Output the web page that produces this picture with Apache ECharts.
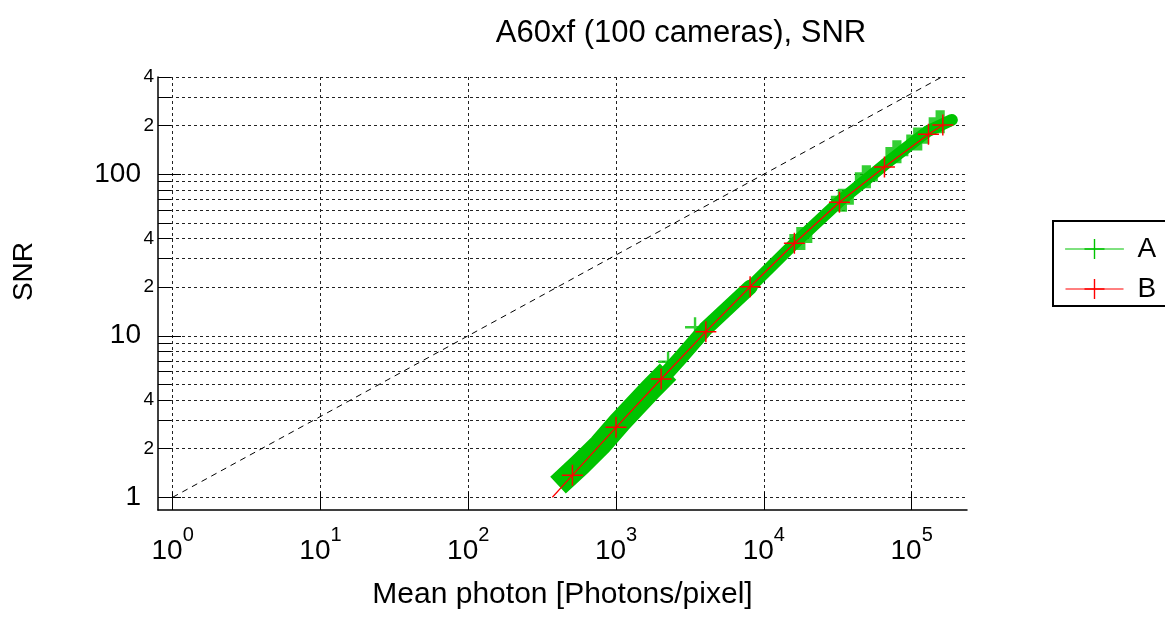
<!DOCTYPE html>
<html><head><meta charset="utf-8">
<script src="https://cdn.jsdelivr.net/npm/echarts@6/dist/echarts.min.js"></script>
<style>html,body{margin:0;padding:0;background:#fff}#c{width:1165px;height:627px}</style>
</head><body><div id="c"></div>
<script>
// ---- data ----
const xTicks = [1, 10, 100, 1000, 10000, 100000];
const yMajorTicks = [1, 10, 100];
const yMinorTicks = [2, 3, 4, 5, 6, 7, 8, 9, 20, 30, 40, 50, 60, 70, 80, 90, 200, 300, 400];
const yMinorLabelValues = [2, 4, 20, 40, 200, 400];

// dashed reference line SNR = sqrt(photons)
const refLine = [[1, 1], [160000, 400]];

// series B (red): line start without marker, then markers
const bLineStart = [371, 1.0];
const bMarkers = [[507, 1.37], [1000, 2.71], [2019, 5.40], [4053, 10.6], [8078, 20.1],
  [16100, 37.4], [32500, 67.1], [65500, 111], [130000, 177], [162600, 202]];

// series A (green, 100 cameras): band centre, read in three stretches of different spread
const aBandLow = [[405, 1.19], [570, 1.59], [780, 2.11], [1065, 2.93], [1700, 4.62], [2250, 6.0]];
const aBandMid = [[1700, 4.62], [2250, 6.0], [2720, 7.29], [4020, 11.0], [8080, 20.0]];
const aBandHigh = [[8080, 20.0], [16200, 37.5], [32800, 68.4], [65100, 114], [129000, 185], [187000, 217]];
// clusters of camera markers sticking out of the band
const aSmallClusters = [[3425, 11.3], [2250, 6.9]];
const aBlobClusters = [[17800, 40.0], [34000, 69.0], [49400, 96.4], [79500, 138], [110000, 165], [156000, 211]];

const X_MIN = 0.796, X_MAX = 237000, Y_MIN = 0.834, Y_MAX = 400;

// ---- styling ----
const FONT = 'Liberation Sans, Arial, sans-serif';
const GREEN = '#00c300', RED = '#ff0000';
const thinPlus = 'path://M-0.07,-1H0.07V-0.07H1V0.07H0.07V1H-0.07V0.07H-1V-0.07H-0.07Z';
const midPlus = 'path://M-0.12,-1H0.12V-0.12H1V0.12H0.12V1H-0.12V0.12H-1V-0.12H-0.12Z';
const blobPlus = 'path://M-0.4,-1H0.4V-0.4H1V0.4H0.4V1H-0.4V0.4H-1V-0.4H-0.4Z';
const gridDots = { color: '#222', width: 1, type: [3, 3] };

const chart = echarts.init(document.getElementById('c'));

function bandSeries(data, width, cap) {
  return {
    name: 'A', type: 'line', data: data, xAxisIndex: 0, yAxisIndex: 0,
    symbol: thinPlus, symbolSize: 20, showSymbol: false,
    lineStyle: { color: GREEN, width: width, cap: cap, join: 'round' },
    itemStyle: { color: GREEN },
    silent: true, z: 3, animation: false
  };
}

const bData = [{ value: bLineStart, symbol: 'none' }].concat(bMarkers.map(p => ({ value: p })));

const option = {
  animation: false,
  backgroundColor: '#fff',
  textStyle: { fontFamily: FONT },
  title: {
    text: 'A60xf (100 cameras), SNR',
    left: 676, top: 13, textAlign: 'center',
    textStyle: { fontFamily: FONT, fontSize: 31, fontWeight: 'normal', color: '#000' }
  },
  legend: {
    data: ['A', 'B'],
    orient: 'vertical', left: 1053, top: 221,
    padding: [14, 40, 3, 12],
    itemWidth: 58, itemHeight: 25, itemGap: 12,
    borderColor: '#000', borderWidth: 2, backgroundColor: '#fff',
    selectedMode: false,
    lineStyle: { width: 1 },
    textStyle: { fontFamily: FONT, fontSize: 28, lineHeight: 25, color: '#000', padding: [0, 0, 0, 9] }
  },
  grid: { left: 158, top: 77, width: 809, height: 433, containLabel: false },
  xAxis: {
    type: 'log', logBase: 10, min: X_MIN, max: X_MAX,
    name: 'Mean photon [Photons/pixel]', nameLocation: 'middle', nameGap: 70,
    nameTextStyle: { fontFamily: FONT, fontSize: 30, color: '#000' },
    axisLine: { show: true, onZero: false, lineStyle: { color: '#000', width: 1.5 } },
    axisTick: { show: true, inside: true, length: 18, customValues: xTicks, lineStyle: { color: '#000' } },
    minorTick: { show: false },
    axisLabel: {
      customValues: xTicks, margin: 15, color: '#000',
      formatter: v => '{b|10}{s|' + Math.round(Math.log10(v)) + '}',
      rich: {
        b: { fontFamily: FONT, fontSize: 28, color: '#000', lineHeight: 52 },
        s: { fontFamily: FONT, fontSize: 20, color: '#000', verticalAlign: 'top', lineHeight: 24 }
      }
    },
    splitLine: { show: true, lineStyle: gridDots }
  },
  yAxis: [
    {
      type: 'log', logBase: 10, min: Y_MIN, max: Y_MAX,
      name: 'SNR', nameLocation: 'middle', nameGap: 120,
      nameTextStyle: { fontFamily: FONT, fontSize: 28, color: '#000', padding: [0, 0, 0, 44] },
      axisLine: { show: true, onZero: false, lineStyle: { color: '#000', width: 1.5 } },
      axisTick: { show: true, inside: true, length: 23, customValues: yMajorTicks, lineStyle: { color: '#000' } },
      minorTick: { show: false },
      axisLabel: { customValues: yMajorTicks, margin: 17, fontFamily: FONT, fontSize: 28, color: '#000',
        formatter: v => String(v) },
      splitLine: { show: true, lineStyle: gridDots }
    },
    {
      type: 'log', logBase: 10, min: Y_MIN, max: Y_MAX, position: 'left',
      axisLine: { show: false },
      axisTick: { show: true, inside: true, length: 13, customValues: yMinorTicks, lineStyle: { color: '#000' } },
      minorTick: { show: false },
      axisLabel: { customValues: yMinorLabelValues, margin: 4, fontFamily: FONT, fontSize: 19, color: '#000',
        formatter: v => String(Math.round(v / Math.pow(10, Math.floor(Math.log10(v) + 1e-9)))) },
      splitLine: { show: true, lineStyle: gridDots }
    }
  ],
  series: [
    bandSeries(aBandHigh, 12, 'round'),
    bandSeries(aBandMid, 15, 'round'),
    bandSeries(aBandLow, 23, 'butt'),
    {
      name: 'A', type: 'scatter', data: aSmallClusters, symbol: midPlus, symbolSize: 20,
      itemStyle: { color: GREEN }, silent: true, z: 3
    },
    {
      name: 'A', type: 'scatter', data: aBlobClusters, symbol: blobPlus, symbolSize: 23,
      itemStyle: { color: GREEN }, silent: true, z: 3
    },
    {
      name: 'ref', type: 'line', data: refLine, showSymbol: false, symbol: 'none',
      lineStyle: { color: '#000', width: 1, type: [6, 5] }, silent: true, z: 2
    },
    {
      name: 'B', type: 'line', data: bData,
      symbol: thinPlus, symbolSize: 21, showSymbol: true,
      lineStyle: { color: RED, width: 1.3 }, itemStyle: { color: RED },
      silent: true, z: 5
    }
  ]
};
chart.setOption(option);
</script>
</body></html>
